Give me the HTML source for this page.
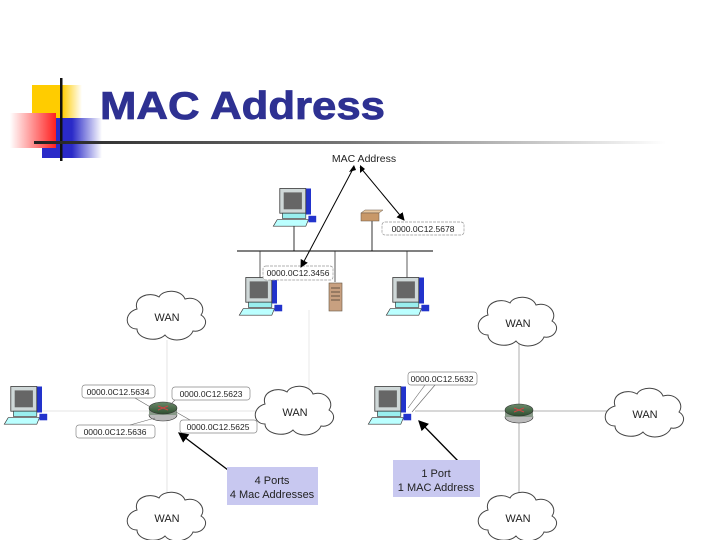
<!DOCTYPE html>
<html><head><style>
html,body{margin:0;padding:0;background:#fff;}
svg{display:block;}
text{font-family:"Liberation Sans",sans-serif;}
</style></head><body>
<svg width="720" height="540" viewBox="0 0 720 540" xmlns="http://www.w3.org/2000/svg">
<defs>
<linearGradient id="gy" x1="0" x2="1"><stop offset="0" stop-color="#ffcc00"/><stop offset="0.6" stop-color="#ffcc00"/><stop offset="1" stop-color="#fff"/></linearGradient>
<linearGradient id="gr" x1="0" x2="1"><stop offset="0" stop-color="#fff"/><stop offset="1" stop-color="#ff2020"/></linearGradient>
<linearGradient id="gb" x1="0" x2="1"><stop offset="0" stop-color="#2a2ac8"/><stop offset="0.5" stop-color="#2a2ac8"/><stop offset="1" stop-color="#fff"/></linearGradient>
<linearGradient id="gl" x1="0" x2="1"><stop offset="0" stop-color="#222"/><stop offset="0.5" stop-color="#777"/><stop offset="1" stop-color="#fff"/></linearGradient>
<linearGradient id="rt" x1="0" x2="0" y1="0" y2="1"><stop offset="0" stop-color="#6a8a6a"/><stop offset="1" stop-color="#2f4f2f"/></linearGradient>
<g id="pc0">
  <rect x="-12" y="-15" width="22" height="20" fill="#2233cc"/>
  <rect x="-14" y="-15" width="20" height="19" fill="#cfd8d8" stroke="#333" stroke-width="0.6"/>
  <rect x="-11" y="-12" width="14" height="13" fill="#666"/>
  <rect x="-12" y="4" width="18" height="4" fill="#9ee" stroke="#333" stroke-width="0.5"/>
  <polygon points="-16,9 8,9 6,14 -19,14" fill="#bff" stroke="#333" stroke-width="0.5"/>
  <rect x="8" y="6" width="6" height="5" fill="#2233cc"/>
</g>
<g id="pc"><use href="#pc0" transform="scale(1.3)"/></g>
<g id="cloud">
  <path d="M-30,-8 C-34,-20 -18,-26 -8,-20 C-4,-28 14,-28 18,-18 C30,-22 40,-10 34,-2 C44,4 36,16 26,14 C22,24 4,26 -2,18 C-10,26 -30,22 -30,12 C-42,12 -44,-4 -30,-8 Z" fill="#fff" stroke="#444" stroke-width="1"/>
  <text x="0" y="4" font-size="11" text-anchor="middle" fill="#222">WAN</text>
</g>
<g id="router">
  <ellipse cx="0" cy="5" rx="14" ry="6" fill="#bbb" stroke="#333" stroke-width="0.6"/>
  <rect x="-14" y="-2" width="28" height="7" fill="#889988"/>
  <ellipse cx="0" cy="-2" rx="14" ry="6" fill="url(#rt)" stroke="#333" stroke-width="0.6"/>
  <path d="M-5,-4 L5,0 M5,-4 L-5,0" stroke="#c44" stroke-width="1"/>
</g>
<marker id="ar" markerWidth="8" markerHeight="8" refX="7" refY="4" orient="auto"><path d="M0,0 L8,4 L0,8 Z" fill="#000"/></marker>
</defs>

<rect x="32" y="85" width="50" height="34" fill="url(#gy)"/>
<rect x="42" y="118" width="60" height="40" fill="url(#gb)"/>
<rect x="10" y="113" width="46" height="35" fill="url(#gr)"/>
<rect x="60" y="78" width="2.5" height="83" fill="#111"/>
<rect x="34" y="141" width="632" height="3" fill="url(#gl)"/>
<text x="100" y="119" font-family="DejaVu Sans" font-weight="bold" font-size="39" fill="#2e3192" stroke="#2e3192" stroke-width="0.8" textLength="285" lengthAdjust="spacingAndGlyphs">MAC Address</text>

<text x="364" y="162" font-size="10.5" text-anchor="middle" fill="#222">MAC Address</text>
<line x1="237" y1="251" x2="433" y2="251" stroke="#000" stroke-width="1"/>
<line x1="294" y1="222" x2="294" y2="251" stroke="#000" stroke-width="0.8"/>
<line x1="372" y1="220" x2="372" y2="251" stroke="#000" stroke-width="0.8"/>
<line x1="260" y1="251" x2="260" y2="282" stroke="#333" stroke-width="0.8"/>
<line x1="335" y1="251" x2="335" y2="282" stroke="#333" stroke-width="0.8"/>
<line x1="407" y1="251" x2="407" y2="282" stroke="#333" stroke-width="0.8"/>
<use href="#pc" x="298" y="208"/>
<use href="#pc" x="264" y="297"/>
<use href="#pc" x="411" y="297"/>
<polygon points="361,213 379,213 383,210 365,210" fill="#e8c8a0" stroke="#654" stroke-width="0.5"/>
<rect x="361" y="213" width="18" height="8" fill="#c89868" stroke="#654" stroke-width="0.5"/>
<rect x="329" y="283" width="13" height="28" fill="#c8a080" stroke="#654" stroke-width="0.6"/>
<line x1="331" y1="288" x2="340" y2="288" stroke="#654"/><line x1="331" y1="292" x2="340" y2="292" stroke="#654"/><line x1="331" y1="296" x2="340" y2="296" stroke="#654"/><line x1="331" y1="300" x2="340" y2="300" stroke="#654"/>
<rect x="382" y="222" width="82" height="13" rx="3" fill="#fff" stroke="#999" stroke-width="0.7" stroke-dasharray="3,1"/>
<text x="423" y="232" font-size="8.5" text-anchor="middle" fill="#222">0000.0C12.5678</text>
<rect x="263" y="266" width="70" height="14" rx="3" fill="#fff" stroke="#999" stroke-width="0.7" stroke-dasharray="3,1"/>
<text x="298" y="276" font-size="8.5" text-anchor="middle" fill="#222">0000.0C12.3456</text>
<line x1="354" y1="167" x2="301" y2="267" stroke="#000" marker-end="url(#ar)"/>
<line x1="360" y1="167" x2="404" y2="220" stroke="#000" marker-end="url(#ar)"/>
<path d="M354,165 l-5,7 l7,-2 z" fill="#000"/>
<path d="M360,165 l0,8 l5,-4 z" fill="#000"/>

<line x1="167" y1="340" x2="167" y2="495" stroke="#ddd" stroke-width="0.8"/>
<line x1="40" y1="411" x2="260" y2="411" stroke="#ddd" stroke-width="0.8"/>
<line x1="309" y1="310" x2="309" y2="392" stroke="#e4e4e4" stroke-width="0.8"/>
<line x1="519" y1="344" x2="519" y2="495" stroke="#999" stroke-width="0.8"/>
<line x1="415" y1="411" x2="610" y2="411" stroke="#999" stroke-width="0.8"/>

<use href="#cloud" x="167" y="317"/>
<use href="#cloud" x="518" y="323"/>
<use href="#cloud" x="295" y="412"/>
<use href="#cloud" x="645" y="414"/>
<use href="#cloud" x="167" y="518"/>
<use href="#cloud" x="518" y="518"/>

<use href="#pc" x="29" y="406"/>
<use href="#router" x="163" y="410"/>
<use href="#pc" x="393" y="406"/>
<use href="#router" x="519" y="412"/>

<g font-size="8.5" fill="#222" text-anchor="middle">
<rect x="82" y="385" width="73" height="13" rx="3" fill="#fff" stroke="#888" stroke-width="0.7"/>
<text x="118" y="395">0000.0C12.5634</text>
<rect x="172" y="387" width="78" height="13" rx="3" fill="#fff" stroke="#888" stroke-width="0.7"/>
<text x="211" y="397">0000.0C12.5623</text>
<rect x="76" y="425" width="79" height="13" rx="3" fill="#fff" stroke="#888" stroke-width="0.7"/>
<text x="115" y="435">0000.0C12.5636</text>
<rect x="180" y="420" width="77" height="13" rx="3" fill="#fff" stroke="#888" stroke-width="0.7"/>
<text x="218" y="430">0000.0C12.5625</text>
<rect x="408" y="372" width="69" height="13" rx="3" fill="#fff" stroke="#888" stroke-width="0.7"/>
<text x="442" y="382">0000.0C12.5632</text>
</g>
<line x1="135" y1="398" x2="152" y2="408" stroke="#666" stroke-width="0.6"/>
<line x1="175" y1="400" x2="170" y2="405" stroke="#666" stroke-width="0.6"/>
<line x1="130" y1="425" x2="155" y2="418" stroke="#666" stroke-width="0.6"/>
<line x1="190" y1="420" x2="176" y2="412" stroke="#666" stroke-width="0.6"/>
<line x1="435" y1="385" x2="412" y2="412" stroke="#666" stroke-width="0.6"/>
<line x1="425" y1="385" x2="408" y2="408" stroke="#666" stroke-width="0.6"/>

<line x1="228" y1="470" x2="179" y2="433" stroke="#000" stroke-width="1.3" marker-end="url(#ar)"/>
<line x1="460" y1="463" x2="419" y2="421" stroke="#000" stroke-width="1.3" marker-end="url(#ar)"/>
<rect x="227" y="467" width="91" height="38" fill="#c8c8f0"/>
<text x="272" y="484" font-size="11" text-anchor="middle" fill="#222">4 Ports</text>
<text x="272" y="498" font-size="11" text-anchor="middle" fill="#222">4 Mac Addresses</text>
<rect x="393" y="460" width="87" height="37" fill="#c8c8f0"/>
<text x="436" y="477" font-size="11" text-anchor="middle" fill="#222">1 Port</text>
<text x="436" y="491" font-size="11" text-anchor="middle" fill="#222">1 MAC Address</text>
</svg>
</body></html>
